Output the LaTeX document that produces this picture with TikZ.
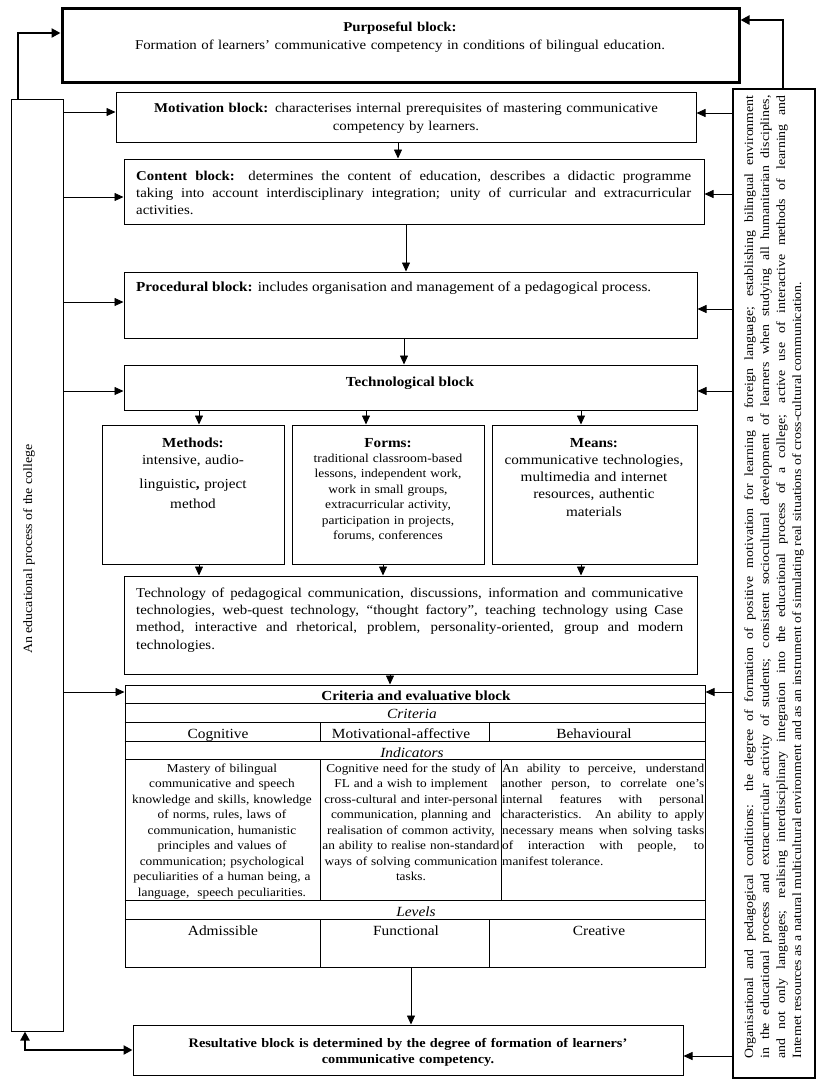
\documentclass[tikz,border=0pt]{standalone}
\usepackage{fontspec}
\setmainfont{Liberation Serif}[FakeStretch=1.1]
\usetikzlibrary{arrows.meta,fit}
\begin{document}
\begin{tikzpicture}[x=1pt,y=-1pt,
  blk/.style={draw, line width=1pt, inner sep=0pt, rectangle},
  txt/.style={inner sep=0pt, font=\fontsize{13.5}{17.4}\selectfont},
  ttxt/.style={inner sep=0pt, font=\fontsize{12.1}{15.5}\selectfont},
  htxt/.style={inner sep=0pt, font=\fontsize{14}{16}\selectfont},
  arr/.style={-{Triangle[length=9pt,width=8pt]}, line width=0.8pt},
  tarr/.style={-{Triangle[length=9pt,width=9pt]}, line width=2.6pt},
  tline/.style={line width=0.9pt}]
\useasboundingbox (0,0) rectangle (824,1088);

% frames
\node[blk, line width=3pt, fit={(62,8) (739,82)}] (purp) {};
\node[blk, fit={(11,99) (63,1031)}] (leftcol) {};
\node[blk, line width=1.6pt, fit={(733,89) (815,1078)}] (rightcol) {};
\node[blk, fit={(116,92) (696,142)}] (mot) {};
\node[blk, fit={(124,159) (704,224)}] (cont) {};
\node[blk, fit={(124,272) (697,338)}] (proc) {};
\node[blk, fit={(124,365) (697,410)}] (tech) {};
\node[blk, fit={(102,425) (284,564)}] (meth) {};
\node[blk, fit={(292,425) (484,564)}] (forms) {};
\node[blk, fit={(492,425) (697,564)}] (means) {};
\node[blk, fit={(124,576) (697,674)}] (techno) {};
\node[blk, fit={(125,685) (705,967)}] (table) {};
\node[blk, fit={(133,1025) (683,1075)}] (res) {};

% texts
\node[txt, font=\fontsize{13.5}{18}\selectfont, anchor=base, text width=640, align=center] (purpt) at (400,31.5)
  {\textbf{Purposeful block:}\\ Formation of learners’ communicative competency in conditions of bilingual education.};
\node[txt, font=\fontsize{13.5}{18}\selectfont, anchor=base, text width=575, align=center] (mott) at (406,112)
  {\textbf{Motivation block:} characterises internal prerequisites of mastering communicative\\ competency by learners.};
\node[txt, anchor=base west, text width=555, align=justify] (contt) at (136,180)
  {\textbf{Content block:} determines the content of education, describes a didactic programme\linebreak taking into account interdisciplinary integration; unity of curricular and extracurricular\linebreak activities.};
\node[txt, font=\fontsize{13.8}{17.4}\selectfont, anchor=base west] (proct) at (136,291)
  {\textbf{Procedural block:} includes organisation and management of a pedagogical process.};
\node[txt, font=\fontsize{13.8}{17.4}\selectfont, anchor=base] (techt) at (410,386) {\textbf{Technological block}};
\node[txt, font=\fontsize{13.8}{17}\selectfont, anchor=base, text width=178, align=center] (metht) at (193,447)
  {\textbf{Methods:}\\ intensive, audio-\\[7pt] linguistic\textbf{,} project\\[3pt] method};
\node[txt, font=\fontsize{12.2}{15.4}\selectfont, anchor=base, text width=190, align=center] (formst) at (388,447)
  {{\fontsize{13.8}{15.4}\selectfont\textbf{Forms:}}\\ traditional classroom-based\\ lessons, independent work,\\ work in small groups,\\ extracurricular activity,\\ participation in projects,\\ forums, conferences};
\node[txt, font=\fontsize{13.8}{17.3}\selectfont, anchor=base, text width=203, align=center] (meanst) at (594,447)
  {\textbf{Means:}\\ communicative technologies,\\ multimedia and internet\\ resources, authentic\\ materials};
\node[txt, anchor=base west, text width=547, align=justify] (technot) at (136,597)
  {Technology of pedagogical communication, discussions, information and communicative\linebreak technologies, web-quest technology, “thought factory”, teaching technology using Case\linebreak method, interactive and rhetorical, problem, personality-oriented, group and modern\linebreak technologies.};

% table grid
\draw[tline] (table.west |- 0,703) -- (table.east |- 0,703);
\draw[tline] (table.west |- 0,722) -- (table.east |- 0,722);
\draw[tline] (table.west |- 0,741) -- (table.east |- 0,741);
\draw[tline] (table.west |- 0,759) -- (table.east |- 0,759);
\draw[tline] (table.west |- 0,900) -- (table.east |- 0,900);
\draw[tline] (table.west |- 0,919) -- (table.east |- 0,919);
\draw[tline] (320,722) -- (320,741);
\draw[tline] (489,722) -- (489,741);
\draw[tline] (320,759) -- (320,900);
\draw[tline] (501,759) -- (501,900);
\draw[tline] (320,919) -- (320,967);
\draw[tline] (489,919) -- (489,967);

\node[htxt, font=\fontsize{13.8}{15}\selectfont, anchor=base] (tabt) at (416,700) {\textbf{Criteria and evaluative block}};
\node[htxt, anchor=base] (crit) at (412,718) {\textit{Criteria}};
\node[htxt, anchor=base] (cogn) at (218,738) {Cognitive};
\node[htxt, anchor=base] (motaf) at (401,738) {Motivational-affective};
\node[htxt, anchor=base] (behav) at (594,738) {Behavioural};
\node[htxt, anchor=base] (indic) at (412,757) {\textit{Indicators}};
\node[ttxt, anchor=base, text width=192, align=center] (ind1) at (222,772)
  {Mastery of bilingual\\ communicative and speech\\ knowledge and skills, knowledge\\ of norms, rules, laws of\\ communication, humanistic\\ principles and values of\\ communication; psychological\\ peculiarities of a human being, a\\ language,~ speech peculiarities.};
\node[ttxt, anchor=base, text width=183, align=center] (ind2) at (411,772)
  {Cognitive need for the study of\\ FL and a wish to implement\\ cross-cultural and inter-personal\\ communication, planning and\\ realisation of common activity,\\ an ability to realise non-standard\\ ways of solving communication\\ tasks.};
\node[ttxt, anchor=base west, text width=202, align=justify] (ind3) at (502,772)
  {An ability to perceive, understand\linebreak another person, to correlate one’s\linebreak internal features with personal\linebreak characteristics. An ability to apply\linebreak necessary means when solving tasks\linebreak of interaction with people, to\linebreak manifest tolerance.};
\node[htxt, anchor=base] (levels) at (416,916) {\textit{Levels}};
\node[htxt, anchor=base] (adm) at (223,935) {Admissible};
\node[htxt, anchor=base] (func) at (406,935) {Functional};
\node[htxt, anchor=base] (creat) at (599,935) {Creative};

\node[txt, font=\fontsize{13}{16}\selectfont, anchor=base, text width=540, align=center] (rest) at (408,1047)
  {\textbf{Resultative block is determined by the degree of formation of learners’\\ communicative competency.}};

\node[txt, font=\fontsize{12.7}{15}\selectfont, rotate=90, anchor=center] (leftt) at (29,549) {An educational process of the college};
\node[txt, font=\fontsize{12.6}{16}\selectfont, rotate=90, anchor=center, text width=963, align=justify] (rightt) at (774,577)
  {Organisational and pedagogical conditions: the degree of formation of positive motivation for learning a foreign language; establishing bilingual environment\linebreak in the educational process and extracurricular activity of students; consistent sociocultural development of learners when studying all humanitarian disciplines,\linebreak and not only languages; realising interdisciplinary integration into the educational process of a college; active use of interactive methods of learning and\linebreak Internet resources as a natural multicultural environment and as an instrument of simulating real situations of cross-cultural communication.};

% thick connectors
\coordinate (tl) at (18,33);
\coordinate (tr) at (783,20);
\coordinate (bl) at (25,1050);
\draw[tarr] (leftcol.north -| tl) -- (tl) -- (tl -| purp.west);
\draw[tarr] (rightcol.north -| tr) -- (tr) -- (tr -| purp.east);
\draw[tarr, {Triangle[length=9pt,width=9pt]}-{Triangle[length=9pt,width=9pt]}] (leftcol.south -| bl) -- (bl) -- (bl -| res.west);

% left arrows
\draw[arr] (leftcol.east |- 0,112) -- (mot.west |- 0,112);
\draw[arr] (leftcol.east |- 0,197) -- (cont.west |- 0,197);
\draw[arr] (leftcol.east |- 0,302) -- (proc.west |- 0,302);
\draw[arr] (leftcol.east |- 0,391) -- (tech.west |- 0,391);
\draw[arr] (leftcol.east |- 0,692) -- (table.west |- 0,692);
% right arrows
\draw[arr] (rightcol.west |- 0,113) -- (mot.east |- 0,113);
\draw[arr] (rightcol.west |- 0,194) -- (cont.east |- 0,194);
\draw[arr] (rightcol.west |- 0,309) -- (proc.east |- 0,309);
\draw[arr] (rightcol.west |- 0,391) -- (tech.east |- 0,391);
\draw[arr] (rightcol.west |- 0,692) -- (table.east |- 0,692);
\draw[arr] (rightcol.west |- 0,1056) -- (res.east |- 0,1056);
% vertical arrows
\draw[arr] (mot.south -| 398,0) -- (cont.north -| 398,0);
\draw[arr] (cont.south -| 406,0) -- (proc.north -| 406,0);
\draw[arr] (proc.south -| 404,0) -- (tech.north -| 404,0);
\draw[arr] (tech.south -| 199,0) -- (meth.north -| 199,0);
\draw[arr] (tech.south -| 366,0) -- (forms.north -| 366,0);
\draw[arr] (tech.south -| 581,0) -- (means.north -| 581,0);
\draw[arr] (meth.south -| 199,0) -- (techno.north -| 199,0);
\draw[arr] (forms.south -| 383,0) -- (techno.north -| 383,0);
\draw[arr] (means.south -| 581,0) -- (techno.north -| 581,0);
\draw[arr] (techno.south -| 390,0) -- (table.north -| 390,0);
\draw[arr] (table.south -| 411,0) -- (res.north -| 411,0);
\end{tikzpicture}
\end{document}
